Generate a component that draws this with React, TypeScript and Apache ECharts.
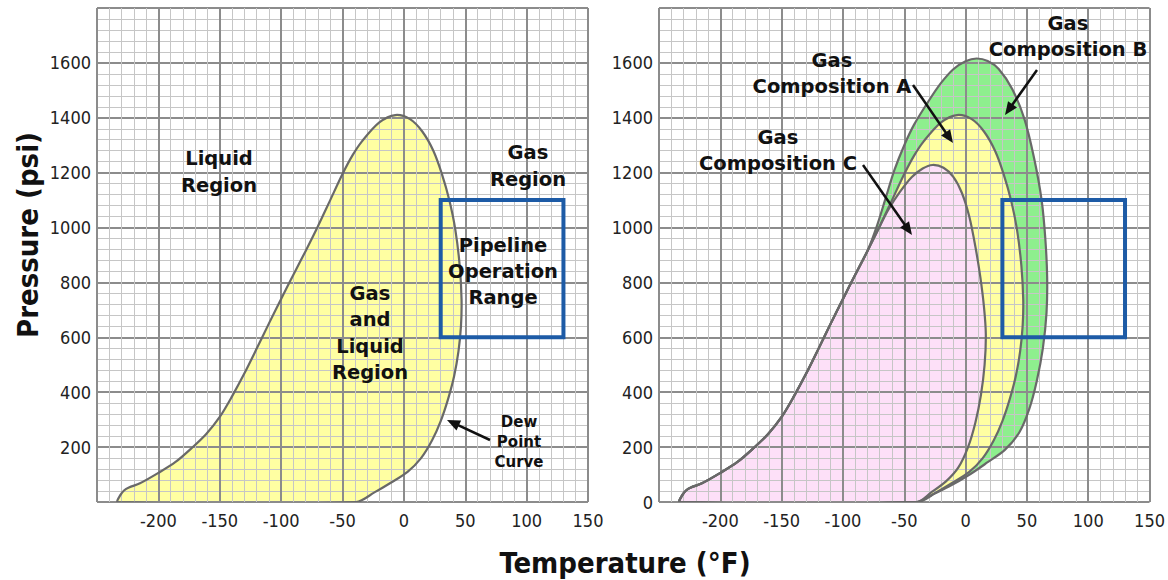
import React, { useEffect, useRef } from "react";
import * as echarts from "echarts";

// ---- axis settings ----
const tempRange = [-250, 150];
const tempStep = 50;
const pressureRange = [0, 1800];
const pressureStep = 200;

// ---- phase envelopes (temperature °F, pressure psi) ----
// common bubble-point branch (bottom-left), shared by all compositions
const bubbleBase: number[][] = [
  [-233, 0], [-231, 25], [-228, 42], [-224, 53], [-215, 68], [-200, 106],
  [-186, 146], [-173, 196], [-161, 248], [-150, 310], [-140, 385],
  [-130, 468], [-120, 558], [-110, 650], [-100, 740], [-90, 828],
  [-80, 915],
];
// Composition A (left chart envelope): upper part and dew point curve
const envelopeA: number[][] = [
  [-70, 1005], [-60, 1100], [-50, 1195], [-42, 1262], [-34, 1315], [-20, 1383], [-7, 1410],
  [5, 1395], [15, 1350], [24, 1280], [31, 1195], [37, 1100], [42, 990],
  [45.5, 860], [47, 736], [46.5, 640], [44.5, 550], [41, 460], [36, 375],
  [30, 295], [23, 225], [14, 160], [3, 110], [-10, 72], [-24, 35], [-39, 0],
];
// Composition B
const envelopeB: number[][] = [
  [-72, 1010], [-65, 1110], [-58, 1210], [-50, 1300], [-42, 1375], [-30, 1462],
  [-20, 1527], [-10, 1577], [0, 1606], [9, 1616], [18, 1607], [27, 1578],
  [38, 1505], [48, 1395], [56, 1250], [62, 1100], [65, 960], [66.5, 820],
  [66, 690], [63, 560], [58, 440], [52, 340], [44, 255], [32, 190],
  [18, 145], [4, 102], [-14, 55], [-28, 25], [-40, 0],
];
// Composition C
const envelopeC: number[][] = [
  [-70, 1005], [-63, 1065], [-54, 1127], [-44, 1183], [-35, 1215], [-27, 1228],
  [-18, 1218], [-10, 1185], [-3, 1126], [3, 1040], [8, 930], [12, 820],
  [15, 710], [16.5, 610], [15.5, 500], [12.5, 390], [8, 290], [2, 200],
  [-6, 125], [-16, 75], [-28, 35], [-40, 0],
];

// pipeline operation range
const pipelineTemp = [30, 130];
const pipelinePressure = [600, 1100];

const colorA = "#ffffa2";
const colorB = "#8eef8e";
const colorC = "#fde0f8";
const curveColor = "#696969";

const tickFont = "'DejaVu Sans Condensed', 'Liberation Sans', sans-serif";
const boldFont = "'DejaVu Sans', sans-serif";

function envelopeSeries(points: number[][], idx: number, fill: string, z: number, strokeOnly: boolean) {
  return {
    type: "custom",
    xAxisIndex: idx,
    yAxisIndex: idx,
    z,
    clip: true,
    silent: true,
    data: points,
    encode: { x: 0, y: 1 },
    renderItem: (params: any, api: any) => {
      if (params.dataIndex !== 0) return null;
      const pts = points.map((p) => api.coord(p));
      return {
        type: "polygon",
        shape: { points: pts, smooth: 0.3 },
        style: strokeOnly
          ? { fill: "none", stroke: curveColor, lineWidth: 2.2 }
          : { fill, stroke: "none" },
      };
    },
  };
}

function boxSeries(idx: number) {
  return {
    type: "custom",
    xAxisIndex: idx,
    yAxisIndex: idx,
    z: 10,
    silent: true,
    data: [[pipelineTemp[0], pipelinePressure[0]]],
    renderItem: (_p: any, api: any) => {
      const a = api.coord([pipelineTemp[0], pipelinePressure[1]]);
      const b = api.coord([pipelineTemp[1], pipelinePressure[0]]);
      return {
        type: "rect",
        shape: { x: a[0], y: a[1], width: b[0] - a[0], height: b[1] - a[1] },
        style: { fill: "none", stroke: "#1d5ba6", lineWidth: 4 },
      };
    },
  };
}

function xAxis(idx: number) {
  return {
    type: "value",
    gridIndex: idx,
    min: tempRange[0],
    max: tempRange[1],
    interval: tempStep,
    z: 5,
    axisLine: { show: false },
    axisTick: { show: false },
    axisLabel: { showMinLabel: false, fontSize: 18, color: "#222", margin: 9, fontFamily: tickFont },
    splitLine: { show: true, lineStyle: { color: "#8c8c8c", width: 2 } },
    minorTick: { show: false, splitNumber: 5 },
    minorSplitLine: { show: true, lineStyle: { color: "#c6c6c6", width: 1 } },
  };
}

function yAxis(idx: number, showZero: boolean) {
  return {
    type: "value",
    gridIndex: idx,
    min: pressureRange[0],
    max: pressureRange[1],
    interval: pressureStep,
    z: 5,
    axisLine: { show: false },
    axisTick: { show: false },
    axisLabel: {
      showMinLabel: showZero,
      showMaxLabel: false,
      fontSize: 18,
      color: "#222",
      margin: 6,
      fontFamily: tickFont,
      formatter: (v: number) => String(v),
    },
    splitLine: { show: true, lineStyle: { color: "#8c8c8c", width: 2 } },
    minorTick: { show: false, splitNumber: 5 },
    minorSplitLine: { show: true, lineStyle: { color: "#c6c6c6", width: 1 } },
  };
}

function label(text: string, x: number, y: number, size: number, lh: number) {
  return {
    type: "text",
    x,
    y,
    z: 20,
    silent: true,
    style: {
      text,
      font: `bold ${size}px ${boldFont}`,
      fill: "#111",
      align: "center",
      verticalAlign: "middle",
      lineHeight: lh,
    },
  };
}

function arrow(x1: number, y1: number, x2: number, y2: number) {
  const dx = x2 - x1;
  const dy = y2 - y1;
  const len = Math.sqrt(dx * dx + dy * dy);
  const ux = dx / len;
  const uy = dy / len;
  const hl = 13;
  const hw = 5.5;
  const bx = x2 - ux * hl;
  const by = y2 - uy * hl;
  return [
    {
      type: "line",
      z: 20,
      silent: true,
      shape: { x1, y1, x2: bx + ux * 2, y2: by + uy * 2 },
      style: { stroke: "#111", lineWidth: 2.5 },
    },
    {
      type: "polygon",
      z: 20,
      silent: true,
      shape: {
        points: [
          [x2, y2],
          [bx - uy * hw, by + ux * hw],
          [bx + uy * hw, by - ux * hw],
        ],
      },
      style: { fill: "#111" },
    },
  ];
}

export default function App() {
  const ref = useRef<HTMLDivElement>(null);
  useEffect(() => {
    if (!ref.current) return;
    const chart = echarts.init(ref.current, undefined, { renderer: "svg" });
    const envA = [...bubbleBase, ...envelopeA];
    const envB = [...bubbleBase, ...envelopeB];
    const envC = [...bubbleBase, ...envelopeC];
    const option: any = {
      animation: false,
      backgroundColor: "#ffffff",
      grid: [
        { left: 97, right: 580, top: 8, bottom: 78 },
        { left: 659, right: 18, top: 8, bottom: 78 },
      ],
      xAxis: [xAxis(0), xAxis(1)],
      yAxis: [yAxis(0, false), yAxis(1, true)],
      series: [
        envelopeSeries(envA, 0, colorA, 2, false),
        envelopeSeries(envB, 1, colorB, 2, false),
        envelopeSeries(envA, 1, colorA, 3, false),
        envelopeSeries(envC, 1, colorC, 4, false),
        envelopeSeries(envA, 0, colorA, 6, true),
        envelopeSeries(envB, 1, colorB, 6, true),
        envelopeSeries(envA, 1, colorA, 6, true),
        envelopeSeries(envC, 1, colorC, 6, true),
        boxSeries(0),
        boxSeries(1),
      ],
      graphic: [
        {
          type: "text",
          x: 28,
          y: 235,
          rotation: Math.PI / 2,
          z: 20,
          style: {
            text: "Pressure (psi)",
            font: `bold 29px 'DejaVu Sans Condensed', 'DejaVu Sans', sans-serif`,
            fill: "#111",
            align: "center",
            verticalAlign: "middle",
          },
        },
        {
          type: "text",
          x: 625,
          y: 563,
          z: 20,
          style: {
            text: "Temperature (°F)",
            font: `bold 29px 'DejaVu Sans Condensed', 'DejaVu Sans', sans-serif`,
            fill: "#111",
            align: "center",
            verticalAlign: "middle",
          },
        },
        label("Liquid\nRegion", 219, 172, 19.5, 27),
        label("Gas\nRegion", 528, 166, 19.5, 27),
        label("Pipeline\nOperation\nRange", 503, 271, 19.5, 26),
        label("Gas\nand\nLiquid\nRegion", 370, 333, 19.5, 26.5),
        label("Dew\nPoint\nCurve", 519, 442, 15, 20),
        ...arrow(490, 440, 447, 420),
        label("Gas\nComposition B", 1068, 36, 19.5, 26),
        ...arrow(1037, 70, 1005, 115),
        label("Gas\nComposition A", 832, 73, 19.5, 26),
        ...arrow(913, 85, 953, 143),
        label("Gas\nComposition C", 778, 150, 19.5, 26),
        ...arrow(863, 165, 912, 235),
      ],
    };
    chart.setOption(option);
    return () => chart.dispose();
  }, []);
  return (
    <div
      ref={ref}
      style={{ position: "absolute", left: 0, top: 0, width: 1168, height: 580, background: "#fff" }}
    />
  );
}
